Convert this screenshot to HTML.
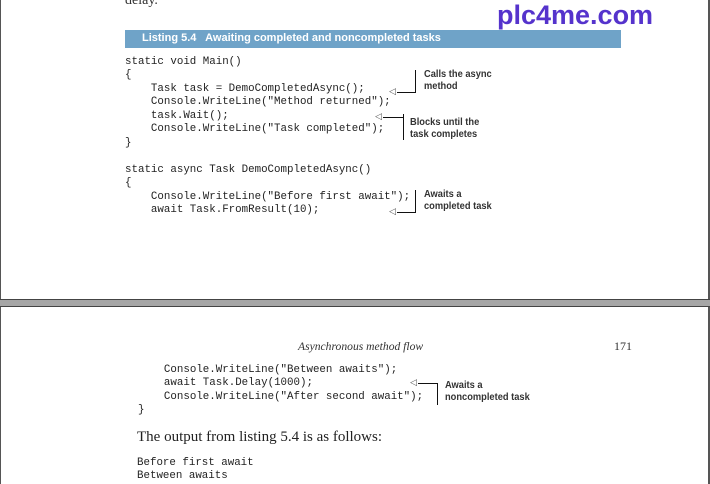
<!DOCTYPE html>
<html><head><style>
body{margin:0;width:710px;height:484px;overflow:hidden;background:#fff;position:relative;font-family:"Liberation Serif",serif}
.a{position:absolute;white-space:pre}
.m{font-family:"Liberation Mono",monospace;font-size:10.8px;color:#222}
.n{font-family:"Liberation Sans",sans-serif;font-weight:bold;font-size:10px;color:#333;line-height:12px;transform:scaleX(.93);transform-origin:left}
.l{position:absolute;background:#111}
.ar{position:absolute;font-size:9px;color:#555;font-family:"DejaVu Sans",sans-serif;line-height:9px}
</style></head><body>
<div style="position:absolute;left:0;top:0;width:1px;height:300px;background:#555"></div>
<div style="position:absolute;left:708px;top:0;width:2px;height:300px;background:#555"></div>
<div style="position:absolute;left:0;top:299px;width:710px;height:8px;background:#a6a6a6;border-top:1px solid #444;border-bottom:1px solid #444;box-sizing:border-box"></div>
<div style="position:absolute;left:0;top:307px;width:1px;height:177px;background:#555"></div>
<div style="position:absolute;left:708px;top:307px;width:2px;height:177px;background:#555"></div>

<div class="a" style="left:125px;top:-7px;font-size:14px;color:#333">delay.</div>
<div class="a" style="left:497px;top:0px;font-family:'Liberation Sans',sans-serif;font-weight:bold;font-size:27px;color:#5533cc">plc4me.com</div>
<div style="position:absolute;left:125px;top:30px;width:496px;height:18px;background:#6fa3c8"></div>
<div class="a" style="left:142px;top:32px;font-family:'Liberation Sans',sans-serif;font-weight:bold;font-size:11px;color:#fff">Listing 5.4   Awaiting completed and noncompleted tasks</div>

<div class="a m" style="left:125px;top:56px;line-height:13.45px">static void Main()
{
    Task task = DemoCompletedAsync();
    Console.WriteLine("Method returned");
    task.Wait();
    Console.WriteLine("Task completed");
}

static async Task DemoCompletedAsync()
{
    Console.WriteLine("Before first await");
    await Task.FromResult(10);</div>

<div class="l" style="left:415px;top:70px;width:1px;height:23px"></div>
<div class="l" style="left:397px;top:92px;width:19px;height:1px"></div>
<div class="ar" style="left:389px;top:88px">◁</div>
<div class="a n" style="left:424px;top:69px">Calls the async
method</div>

<div class="l" style="left:403px;top:114px;width:1px;height:26px"></div>
<div class="l" style="left:383px;top:117px;width:20px;height:1px"></div>
<div class="ar" style="left:375px;top:113px">◁</div>
<div class="a n" style="left:410px;top:117px">Blocks until the
task completes</div>

<div class="l" style="left:415px;top:190px;width:1px;height:23px"></div>
<div class="l" style="left:397px;top:212px;width:19px;height:1px"></div>
<div class="ar" style="left:389px;top:208px">◁</div>
<div class="a n" style="left:424px;top:189px">Awaits a
completed task</div>

<div class="a" style="left:298px;top:340px;font-style:italic;font-size:11.6px;color:#333">Asynchronous method flow</div>
<div class="a" style="left:614px;top:339px;font-size:12px;color:#333">171</div>

<div class="a m" style="left:138px;top:364px;line-height:13.4px">    Console.WriteLine("Between awaits");
    await Task.Delay(1000);
    Console.WriteLine("After second await");
}</div>
<div class="l" style="left:437px;top:383px;width:1px;height:22px"></div>
<div class="l" style="left:418px;top:383px;width:20px;height:1px"></div>
<div class="ar" style="left:410px;top:379px">◁</div>
<div class="a n" style="left:445px;top:380px">Awaits a
noncompleted task</div>

<div class="a" style="left:137px;top:429px;font-size:15px;color:#222">The output from listing 5.4 is as follows:</div>
<div class="a m" style="left:137px;top:457px;line-height:13.4px">Before first await
Between awaits</div>
</body></html>
